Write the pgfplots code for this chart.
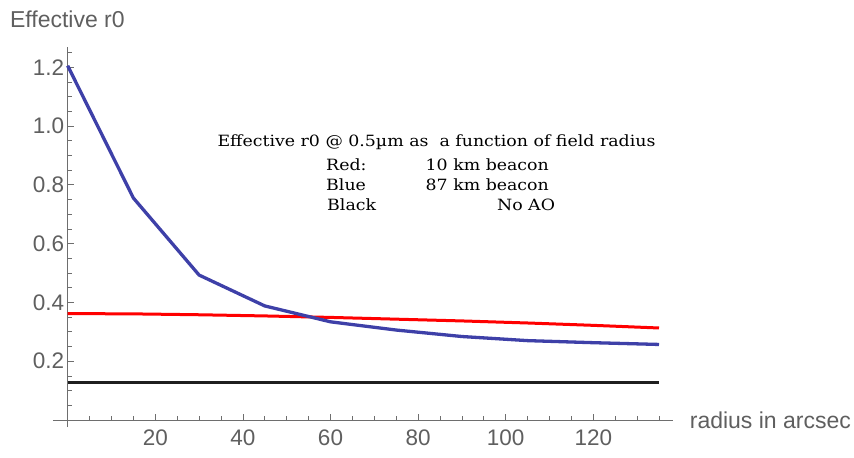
\documentclass[border=0pt]{standalone}
\usepackage{fontspec}
\setmainfont{Liberation Sans}
\newfontfamily\annfont[FakeStretch=1.12]{DejaVu Serif}
\usepackage{pgfplots}
\pgfplotsset{compat=1.18}

\definecolor{axgray}{RGB}{110,110,110}
\definecolor{lblgray}{RGB}{95,95,95}
\definecolor{mblue}{RGB}{62,64,168}

\begin{document}
\begin{tikzpicture}
\begin{axis}[
  x=4.38pt, y=294pt,
  xmin=-3.4, xmax=138.2, ymin=-0.024, ymax=1.27,
  axis lines=middle,
  axis line style={-, axgray, line width=0.9pt},
  clip=false,
  xtick={20,40,...,120},
  minor xtick={5,10,...,135},
  ytick={0.2,0.4,...,1.2},
  minor ytick={0.05,0.1,...,1.25},
  tick align=inside,
  major tick length=6pt, minor tick length=4pt,
  tick style={axgray, line width=0.8pt},
  tick label style={font=\fontsize{22.5}{26}\selectfont, text=lblgray},
  /pgf/number format/assume math mode=true,
  yticklabel style={/pgf/number format/fixed, /pgf/number format/precision=1,
    /pgf/number format/fixed zerofill},
  xticklabel style={yshift=-6pt},
]
\addplot[black!88, line width=3pt] coordinates {(0,0.129)(135,0.129)};
\addplot[red, line width=3pt] coordinates
  {(0,0.362)(15,0.361)(30,0.358)(45,0.354)(60,0.349)(75,0.343)
   (90,0.337)(105,0.330)(120,0.322)(135,0.313)};
\addplot[mblue, line width=3.3pt] coordinates
  {(0,1.205)(15,0.755)(30,0.493)(45,0.388)(60,0.334)(75,0.306)
   (90,0.284)(105,0.270)(120,0.263)(135,0.257)};

% axis titles
\node[anchor=base west, font=\fontsize{23}{27}\selectfont, text=lblgray, inner sep=0pt]
  at (axis cs:-13.2,1.336) {Effective r0};
\node[anchor=west, font=\fontsize{23}{27}\selectfont, text=lblgray, inner sep=0pt]
  at (axis cs:142.0,0.0) {radius in arcsec};

% annotation
\tikzset{ann/.style={font=\annfont\fontsize{15.5}{18}\selectfont, inner sep=0pt}}
\node[ann, anchor=base] at (axis cs:84.2,0.9296)
  {Effective r0 @ 0.5µm as\ \ a function of field radius};
\node[ann, anchor=base west] at (axis cs:58.97,0.8503) {Red:};
\node[ann, anchor=base east] at (axis cs:109.9,0.8503) {10 km beacon};
\node[ann, anchor=base west] at (axis cs:58.97,0.780) {Blue};
\node[ann, anchor=base east] at (axis cs:109.9,0.780) {87 km beacon};
\node[ann, anchor=base west] at (axis cs:59.2,0.712) {Black};
\node[ann, anchor=base east] at (axis cs:111.3,0.712) {No AO};

\coordinate (bbl) at (axis cs:-15.457,-0.1259);
\coordinate (btr) at (axis cs:179.52,1.4286);
\end{axis}
\pgfresetboundingbox
\useasboundingbox (bbl) rectangle (btr);
\end{tikzpicture}
\end{document}
